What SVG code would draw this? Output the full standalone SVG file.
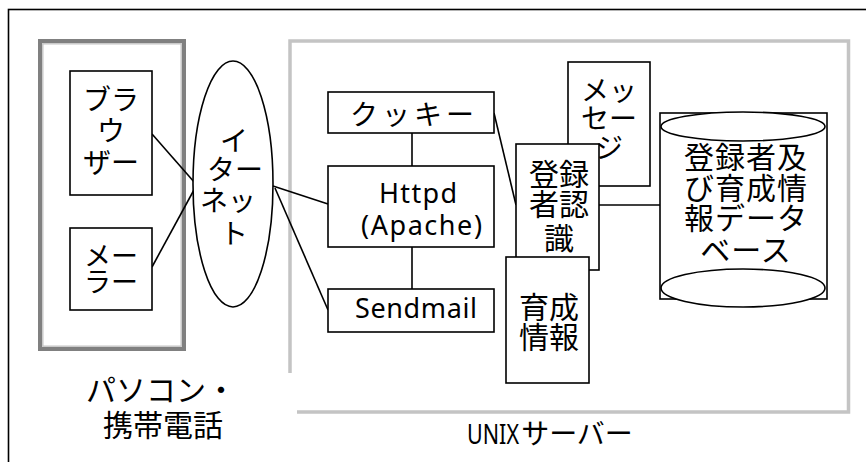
<svg xmlns="http://www.w3.org/2000/svg" width="866" height="462" viewBox="0 0 866 462">
<style>
.box{fill:#fff;stroke:#000;stroke-width:1.6}
.ln{stroke:#000;stroke-width:1.6;fill:none}
.t{font-family:"Noto Sans CJK JP","Noto Sans",sans-serif;fill:#000;text-anchor:middle}
.m{font-family:"Noto Sans","Noto Sans CJK JP",sans-serif;fill:#000;font-size:27px}
</style>
<rect width="866" height="462" fill="#fff"/>
<rect x="8.5" y="9.5" width="880" height="480" fill="none" stroke="#000" stroke-width="1.6"/>
<g id="pc-group">
<rect x="40" y="41" width="144" height="308" fill="#fff" stroke="#808080" stroke-width="4"/>
<rect x="42.8" y="43.8" width="138.4" height="302.4" fill="none" stroke="#c8c8c8" stroke-width="1.5"/>
<text class="t" font-size="30"><tspan x="161" y="401">パソコン・</tspan><tspan x="163" y="436">携帯電話</tspan></text>
</g>
<g id="unix-group">
<path d="M290,373 V41 H848.5 V412 H297" fill="none" stroke="#c4c4c4" stroke-width="3.5"/>
<text class="m" x="467" y="444" textLength="52" lengthAdjust="spacingAndGlyphs">UNIX</text>
<text class="t" font-size="28" x="577" y="444">サーバー</text>
</g>
<g id="connectors">
<line class="ln" x1="152" y1="134" x2="195" y2="183"/>
<line class="ln" x1="152" y1="267" x2="195" y2="188"/>
<line class="ln" x1="273" y1="186" x2="328" y2="204"/>
<line class="ln" x1="275" y1="188" x2="328" y2="310"/>
<line class="ln" x1="412" y1="133" x2="412" y2="166"/>
<line class="ln" x1="412" y1="247" x2="412" y2="289"/>
<line class="ln" x1="494" y1="113" x2="516" y2="205"/>
<line class="ln" x1="599" y1="205" x2="660" y2="205"/>
</g>
<g id="browser">
<rect class="box" x="70" y="71" width="82" height="124"/>
<text class="t" font-size="28"><tspan x="111" y="110">ブラ</tspan><tspan x="111" y="141">ウ</tspan><tspan x="111" y="173">ザー</tspan></text>
</g>
<g id="mailer">
<rect class="box" x="70" y="228" width="82" height="82"/>
<text class="t" font-size="27"><tspan x="111" y="266">メー</tspan><tspan x="111" y="292">ラー</tspan></text>
</g>
<g id="internet">
<ellipse class="box" cx="233" cy="184" rx="40" ry="123"/>
<text class="t" font-size="28"><tspan x="234" y="151">イ</tspan><tspan x="235" y="180">ター</tspan><tspan x="228" y="211">ネッ</tspan><tspan x="234" y="244">ト</tspan></text>
</g>
<g id="cookie">
<rect class="box" x="328" y="92" width="166" height="41"/>
<text class="t" font-size="28" x="414" y="125" letter-spacing="4">クッキー</text>
</g>
<g id="httpd">
<rect class="box" x="328" y="166" width="166" height="81"/>
<text class="m" x="379" y="203" textLength="78" lengthAdjust="spacing">Httpd</text>
<text class="m" x="361" y="235" textLength="121" lengthAdjust="spacing">(Apache)</text>
</g>
<g id="sendmail">
<rect class="box" x="328" y="289" width="166" height="43"/>
<text class="m" x="355" y="318" textLength="122" lengthAdjust="spacing">Sendmail</text>
</g>
<g id="message">
<rect class="box" x="568" y="62" width="82" height="124"/>
<text class="t" font-size="28"><tspan x="609" y="101">メッ</tspan><tspan x="609" y="129">セー</tspan><tspan x="609" y="158">ジ</tspan></text>
</g>
<g id="auth">
<rect class="box" x="516" y="144" width="83" height="126"/>
<text class="t" font-size="30"><tspan x="559" y="185">登録</tspan><tspan x="559" y="215">者認</tspan><tspan x="559" y="249">識</tspan></text>
</g>
<g id="growth">
<rect class="box" x="506" y="257" width="83" height="126"/>
<text class="t" font-size="30"><tspan x="549" y="318">育成</tspan><tspan x="549" y="348">情報</tspan></text>
</g>
<g id="database">
<rect class="box" x="660" y="113" width="167" height="186"/>
<ellipse class="box" cx="743" cy="126.5" rx="82" ry="14.5"/>
<ellipse class="box" cx="743" cy="288" rx="82" ry="19"/>
<text class="t" font-size="30" letter-spacing="1"><tspan x="746" y="168">登録者及</tspan><tspan x="746" y="199">び育成情</tspan><tspan x="746" y="229">報データ</tspan><tspan x="746" y="261">ベース</tspan></text>
</g>
</svg>
